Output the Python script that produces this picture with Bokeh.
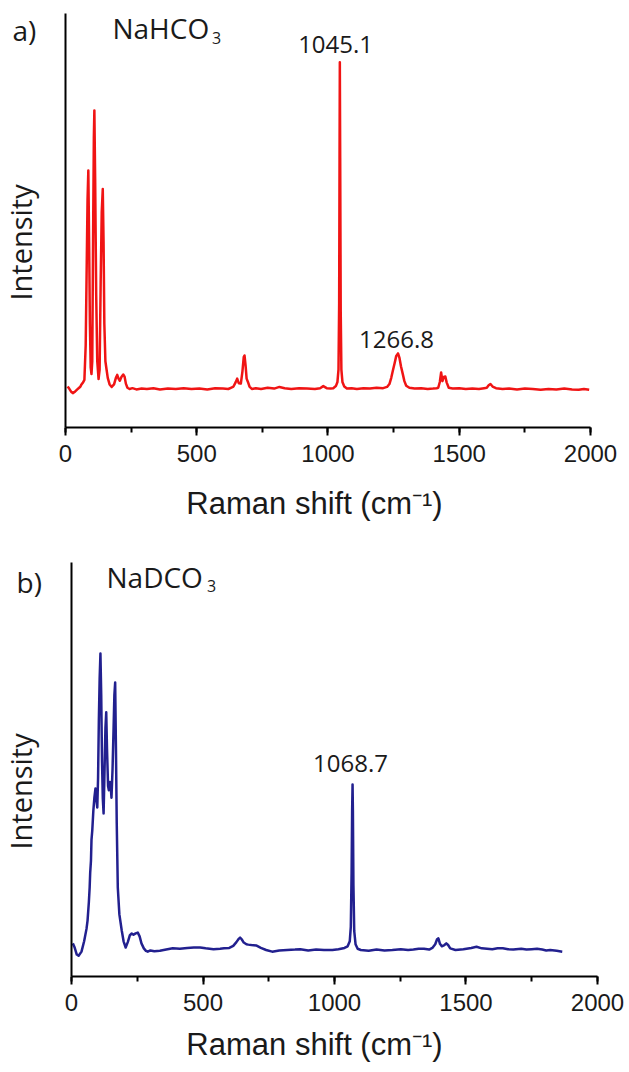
import math
from bokeh.plotting import figure
from bokeh.layouts import column
from bokeh.models import Range1d, Label, FixedTicker
from bokeh.embed import file_html
from bokeh.resources import INLINE

# ---------------- data ----------------
# Panel a: NaHCO3 Raman spectrum (cm-1, arbitrary intensity)
a_shift = [8, 14, 22, 29, 37, 45, 52, 57, 60, 66, 72, 77, 81, 84, 87, 90, 93, 96, 99,
           102, 105, 108, 110, 113, 117, 121, 126, 130, 134, 138, 142, 145, 148, 152,
           156, 161, 168, 176, 185, 192, 197, 202, 207, 213, 220, 225, 230, 236, 244,
           255, 270, 290, 310, 335, 360, 390, 420, 450, 480, 510, 540, 570, 600, 620,
           630, 640, 648, 654, 660, 668, 674, 679, 682, 686, 690, 695, 701, 710, 725,
           745, 770, 795, 815, 835, 860, 890, 920, 950, 970, 982, 995, 1010, 1020,
           1030, 1036, 1040, 1042.5, 1044, 1045.1, 1046.5, 1048.5, 1051, 1055, 1062,
           1072, 1090, 1110, 1135, 1160, 1185, 1210, 1225, 1234, 1241, 1247, 1254,
           1260, 1266.8, 1272, 1278, 1285, 1291, 1298, 1310, 1330, 1355, 1380, 1400,
           1414, 1420, 1426, 1431, 1436, 1441, 1447, 1452, 1460, 1475, 1500, 1525,
           1550, 1575, 1595, 1605, 1612, 1619, 1627, 1640, 1665, 1690, 1720, 1750,
           1780, 1810, 1840, 1870, 1900, 1930, 1955, 1975, 1995]
a_int = [9.9, 9.4, 8.6, 8.3, 8.7, 9.2, 9.6, 9.9, 10.3, 10.8, 11.5, 20.0, 40.0, 55.0,
         62.1, 45.0, 25.0, 14.5, 12.9, 16.0, 45.0, 70.0, 76.6, 60.0, 32.0, 16.0, 11.7,
         14.0, 35.0, 52.0, 57.6, 45.0, 25.0, 16.0, 14.2, 12.0, 10.4, 9.8, 10.4, 12.0,
         12.7, 11.8, 11.3, 12.2, 12.8, 12.3, 10.6, 9.6, 9.3, 9.5, 9.2, 9.4, 9.3, 9.5,
         9.2, 9.4, 9.3, 9.5, 9.3, 9.4, 9.2, 9.5, 9.4, 9.3, 9.6, 9.9, 10.9, 11.8, 10.7,
         10.6, 13.5, 17.0, 17.4, 15.0, 11.8, 11.0, 9.9, 9.3, 9.5, 9.3, 9.6, 9.4, 9.8,
         9.5, 9.3, 9.5, 9.4, 9.3, 9.5, 10.0, 9.5, 9.4, 9.5, 10.0, 11.0, 14.0, 30.0,
         65.0, 88.2, 65.0, 28.0, 14.0, 11.0, 9.9, 9.4, 9.5, 9.3, 9.5, 9.4, 9.6, 9.5,
         9.8, 10.5, 12.0, 13.7, 15.6, 17.3, 17.9, 16.9, 14.8, 12.9, 11.2, 10.1, 9.6,
         9.4, 9.5, 9.3, 9.4, 9.5, 9.6, 11.0, 13.3, 11.2, 12.2, 12.3, 10.9, 9.6, 9.4,
         9.5, 9.3, 9.4, 9.3, 9.5, 9.6, 10.2, 10.5, 9.9, 9.5, 9.3, 9.4, 9.2, 9.4, 9.3,
         9.1, 9.3, 9.2, 9.4, 9.2, 9.1, 9.3, 9.1]

# Panel b: NaDCO3 Raman spectrum
b_shift = [5, 12, 20, 27, 38, 48, 57, 61, 66, 69, 71, 74, 76, 79, 83, 87, 91, 95, 98,
           101, 104, 107, 110, 113, 116, 119, 122, 125, 129, 132, 135, 139, 142, 146,
           149, 152, 156, 160, 163, 166, 169, 172, 176, 182, 191, 198, 206, 214, 222,
           229, 236, 244, 252, 259, 266, 275, 283, 290, 300, 315, 336, 360, 385, 412,
           440, 465, 489, 510, 540, 565, 580, 600, 615, 627, 636, 641, 647, 655, 665,
           672, 684, 702, 720, 740, 763, 790, 820, 850, 870, 900, 930, 960, 992, 1015,
           1038, 1050, 1058, 1062, 1065, 1067, 1068.7, 1070, 1072, 1075, 1080, 1088,
           1100, 1130, 1160, 1190, 1220, 1252, 1280, 1300, 1320, 1340, 1360, 1372,
           1383, 1390, 1395, 1401, 1408, 1418, 1425, 1432, 1440, 1460, 1490, 1520,
           1540, 1560, 1580, 1600, 1620, 1640, 1660, 1680, 1710, 1730, 1750, 1770,
           1790, 1805, 1820, 1845, 1866]
b_int = [8.0, 7.0, 5.3, 5.0, 6.0, 8.5, 11.5, 13.5, 18.0, 21.5, 25.0, 28.0, 33.0, 35.3,
         40.0, 43.2, 45.4, 42.5, 40.8, 48.0, 62.0, 72.0, 78.0, 68.0, 52.0, 43.0, 39.4,
         48.0, 60.0, 63.8, 55.0, 46.0, 45.0, 47.0, 46.0, 43.2, 50.0, 60.0, 68.0, 71.0,
         55.0, 37.0, 21.5, 15.0, 11.1, 8.5, 7.0, 8.3, 10.0, 10.4, 10.1, 10.4, 10.6,
         9.7, 8.0, 6.8, 6.2, 6.0, 6.3, 6.1, 6.2, 6.5, 6.8, 6.7, 6.9, 7.0, 7.0, 6.8,
         6.6, 6.7, 6.8, 6.9, 7.4, 8.3, 9.1, 9.4, 9.0, 8.2, 7.8, 7.7, 7.6, 7.5, 6.9,
         6.4, 6.0, 6.3, 6.4, 6.5, 6.6, 6.3, 6.5, 6.4, 6.4, 6.6, 6.9, 7.3, 8.5, 12.0,
         25.0, 40.0, 46.4, 40.0, 22.0, 11.0, 7.8, 6.7, 6.4, 6.2, 6.5, 6.3, 6.4, 6.6,
         6.4, 6.5, 6.7, 6.7, 6.5, 6.9, 7.8, 9.0, 9.2, 7.9, 7.3, 7.6, 8.0, 7.6, 6.8,
         6.4, 6.6, 6.9, 7.2, 6.8, 6.7, 6.6, 6.8, 6.8, 6.6, 6.5, 6.7, 6.5, 6.6, 6.7,
         6.5, 6.3, 6.4, 6.2, 6.0]

x_ticks = [0, 500, 1000, 1500, 2000]
x_title = "Raman shift (cm\u207b\u00b9)"
y_title = "Intensity"

TXT = "#1a1a1a"
SANS = "Open Sans"
AX_FONT = "Liberation Sans"


def make_panel(shift, inten, color, xr, yr, frame_h, bottom, title_standoff,
               tag, name, peaks, ylab):
    p = figure(frame_width=628, frame_height=frame_h,
               x_range=Range1d(*xr), y_range=Range1d(*yr),
               output_backend="svg", toolbar_location=None,
               min_border_left=0, min_border_right=0,
               min_border_top=0, min_border_bottom=bottom)
    p.outline_line_color = None
    p.grid.visible = False
    p.background_fill_color = "white"
    p.border_fill_color = "white"

    p.line(shift, inten, line_color=color, line_width=2.5, line_join="round")

    xa = p.xaxis[0]
    xa.bounds = (0, 2000)
    xa.ticker = FixedTicker(ticks=x_ticks, minor_ticks=list(range(0, 2001, 250)))
    xa.axis_line_width = 2
    xa.axis_line_color = "black"
    xa.major_tick_line_width = 2
    xa.minor_tick_line_width = 2
    xa.major_tick_out = 8
    xa.major_tick_in = 0
    xa.minor_tick_out = 5
    xa.minor_tick_in = 0
    xa.major_label_standoff = 9
    xa.major_label_text_font = AX_FONT
    xa.major_label_text_font_size = "24px"
    xa.major_label_text_color = TXT
    xa.axis_label = x_title
    xa.axis_label_text_font = AX_FONT
    xa.axis_label_text_font_size = "31px"
    xa.axis_label_text_font_style = "normal"
    xa.axis_label_text_color = TXT
    xa.axis_label_standoff = title_standoff

    # y axis drawn at x = 0, spanning the data range only
    ya = p.yaxis[0]
    ya.fixed_location = 0
    ya.bounds = (0, 100)
    ya.ticker = FixedTicker(ticks=[])
    ya.axis_line_width = 2
    ya.axis_line_color = "black"
    ya.major_tick_out = 0
    ya.major_tick_in = 0
    ya.minor_tick_out = 0
    ya.minor_tick_in = 0
    ya.major_label_standoff = 0

    # rotated y-axis title
    p.add_layout(Label(x=ylab[0], y=ylab[1], text=y_title, angle=math.pi / 2,
                       text_align="center", text_baseline="middle",
                       text_font=SANS, text_font_size="29px", text_color=TXT))

    tx, ty, ttext = tag
    p.add_layout(Label(x=tx, y=ty, text=ttext, text_baseline="alphabetic",
                       text_font=SANS, text_font_size="28px", text_color=TXT))
    nx, ny, ntext, sx, sy = name
    p.add_layout(Label(x=nx, y=ny, text=ntext, text_baseline="alphabetic",
                       text_font=SANS, text_font_size="28px", text_color=TXT))
    p.add_layout(Label(x=sx, y=sy, text="3", text_baseline="alphabetic",
                       text_font=SANS, text_font_size="16px", text_color=TXT))
    for (px_, py_, t) in peaks:
        p.add_layout(Label(x=px_, y=py_, text=t, text_align="center",
                           text_baseline="alphabetic",
                           text_font=SANS, text_font_size="24px", text_color=TXT))
    return p


pa = make_panel(a_shift, a_int, "#f01414", (-247.6, 2144.8), (0, 103.14), 427, 118, 21,
                (-202, 96.0, "a)"), (179, 96.6, "NaHCO", 558, 94.2),
                [(1029, 92.5, "1045.1"), (1261, 21.3, "1266.8")],
                (-171, 44.7))
pb = make_panel(b_shift, b_int, "#22208f", (-270.0, 2117.9), (0, 104.1), 431, 96, 13,
                (-209, 95.4, "b)"), (133, 96.6, "NaDCO", 515, 94.2),
                [(1061, 51.5, "1068.7")],
                (-194, 44.7))

layout = column(pa, pb, spacing=0)
open("out.html", "w").write(file_html(layout, INLINE))
